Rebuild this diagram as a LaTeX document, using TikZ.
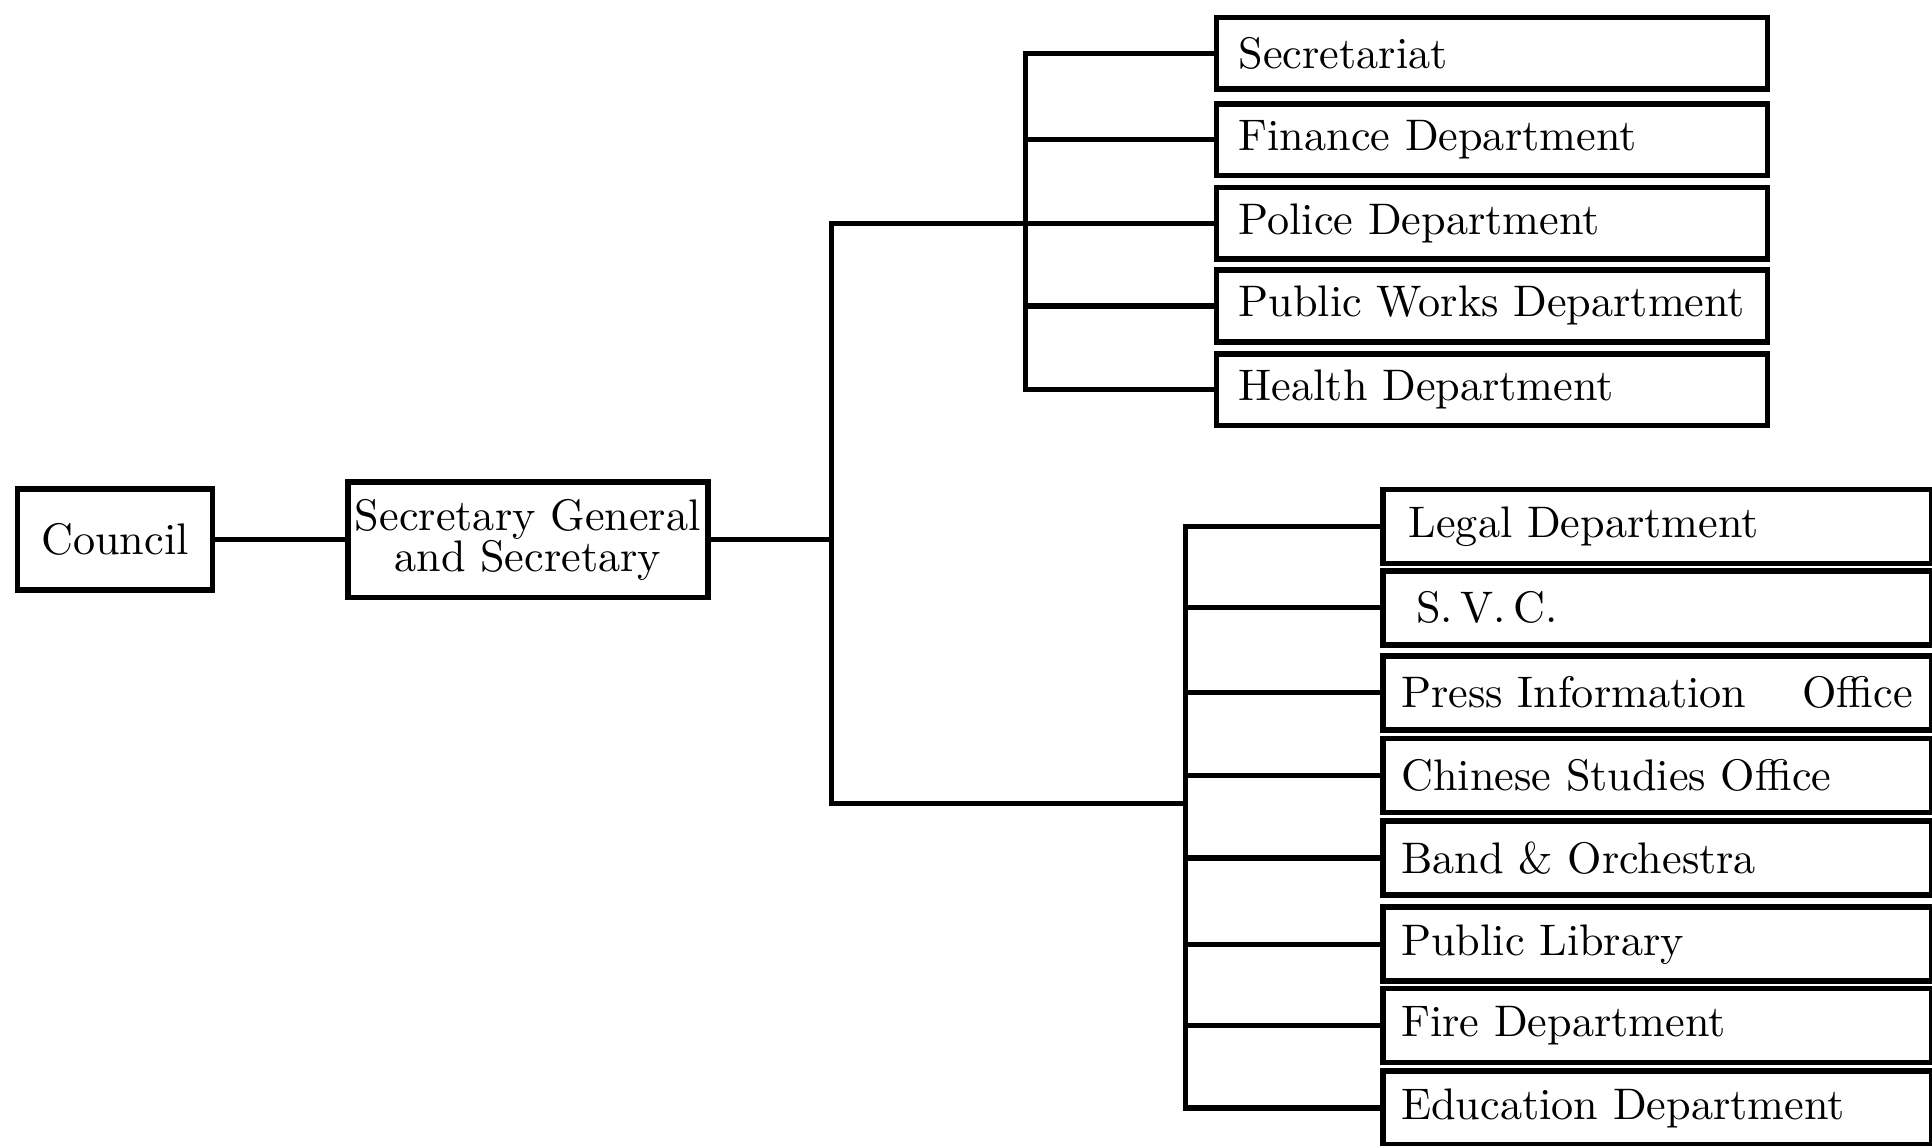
\documentclass[tikz,border=0pt]{standalone}
\begin{document}
\begin{tikzpicture}[x=0.01cm,y=-0.01cm,
  line width=1.2pt,
  conn/.style={line width=1.2pt},
  basebox/.style={draw, line width=1.3pt, font=\fontsize{10.2}{11}\selectfont, inner ysep=0pt},
  upbox/.style={basebox, anchor=north west, text width=4.11cm, inner xsep=0.18cm, minimum height=0.58cm, align=left},
  lowbox/.style={basebox, anchor=north west, text width=4.15cm, inner xsep=0.15cm, minimum height=0.60cm, align=left}]
\useasboundingbox (0,0) rectangle (1568,930);
% left boxes
\node[basebox, anchor=west, minimum width=1.58cm, minimum height=0.82cm, inner xsep=0pt] (council) at (12,438) {Council};
\node[basebox, anchor=west, minimum width=2.92cm, minimum height=0.94cm, inner xsep=0pt, align=center] (secgen) at (280,438) {Secretary General\\[-1.5pt]and Secretary};
% upper group
\node[upbox] (secretariat) at (985,12) {Secretariat};
\node[upbox] (finance) at (985,82) {Finance Department};
\node[upbox] (police) at (985,150) {Police Department};
\node[upbox] (publicworks) at (985,217) {Public Works Department};
\node[upbox] (health) at (985,285) {Health Department};
% lower group
\node[lowbox] (legal) at (1120,395) {\hspace{0.06cm}Legal Department};
\node[lowbox] (svc) at (1120,461) {\hspace{0.12cm}S.\,V.\,C.};
\node[lowbox] (press) at (1120,530) {Press Information\hfill Office};
\node[lowbox] (chinese) at (1120,597) {Chinese Studies Office};
\node[lowbox] (band) at (1120,664) {Band \& Orchestra};
\node[lowbox] (library) at (1120,734) {Public Library};
\node[lowbox] (fire) at (1120,800) {Fire Department};
\node[lowbox] (education) at (1120,867) {Education Department};
% junction coordinates
\coordinate (tx) at (675,0);
\coordinate (ux) at (832,0);
\coordinate (lx) at (962,0);
\coordinate (lowjoin) at (962,652);
% connectors
\draw[conn] (council) -- (secgen);
\draw[conn] (secgen.east) -- (secgen.east -| tx);
\draw[conn] (police.west) -- (police.west -| tx) -- (tx |- lowjoin) -- (lowjoin);
\draw[conn] (secretariat.west) -- (secretariat.west -| ux) -- (health.west -| ux) -- (health.west);
\draw[conn] (finance.west) -- (finance.west -| ux);
\draw[conn] (publicworks.west) -- (publicworks.west -| ux);
\draw[conn] (legal.west) -- (legal.west -| lx) -- (education.west -| lx) -- (education.west);
\draw[conn] (svc.west) -- (svc.west -| lx);
\draw[conn] (press.west) -- (press.west -| lx);
\draw[conn] (chinese.west) -- (chinese.west -| lx);
\draw[conn] (band.west) -- (band.west -| lx);
\draw[conn] (library.west) -- (library.west -| lx);
\draw[conn] (fire.west) -- (fire.west -| lx);
\end{tikzpicture}
\end{document}
